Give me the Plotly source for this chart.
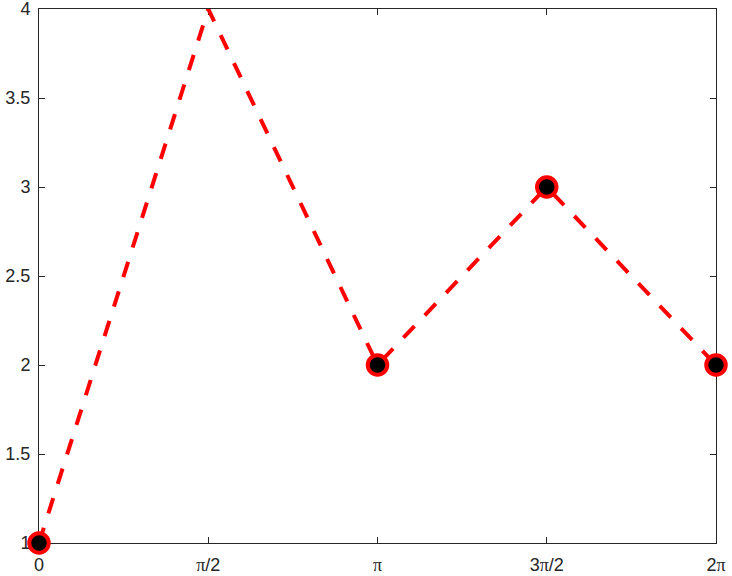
import numpy as np
import plotly.graph_objects as go

x_vals = [0, np.pi / 2, np.pi, 3 * np.pi / 2, 2 * np.pi]
y_vals = [1, 4, 2, 3, 2]
marker_idx = [0, 2, 3, 4]
x_tick_vals = [0, np.pi / 2, np.pi, 3 * np.pi / 2, 2 * np.pi]
PI = "<span style='font-family:Liberation Serif'>π</span>"
x_tick_text = ["0", PI + "/2", PI, "3" + PI + "/2", "2" + PI]
y_tick_vals = [1, 1.5, 2, 2.5, 3, 3.5, 4]
y_tick_text = ["1", "1.5", "2", "2.5", "3", "3.5", "4"]

fig = go.Figure()
fig.add_trace(go.Scatter(
    x=x_vals, y=y_vals, mode="lines",
    line=dict(color="#ff0000", width=4, dash="16px,15px"),
    showlegend=False, hoverinfo="skip"))
fig.add_trace(go.Scatter(
    x=[x_vals[i] for i in marker_idx], y=[y_vals[i] for i in marker_idx],
    mode="markers",
    marker=dict(color="black", size=19.5, line=dict(color="#ff0000", width=4)),
    cliponaxis=False, showlegend=False, hoverinfo="skip"))

axis_common = dict(
    showgrid=False, zeroline=False, showline=True, linecolor="#262626", linewidth=1,
    mirror="ticks", ticks="inside", ticklen=6, tickcolor="#262626", tickwidth=1,
    automargin=False, ticklabeloverflow="allow", layer="below traces",
    showspikes=False,
    tickfont=dict(family="Liberation Sans, Arial, sans-serif", size=18, color="#262626"),
)
fig.update_xaxes(range=[0, 2 * np.pi], tickvals=x_tick_vals, ticktext=x_tick_text,
                 ticklabelstandoff=5, **axis_common)
fig.update_yaxes(range=[1, 4], tickvals=y_tick_vals, ticktext=y_tick_text,
                 ticklabelstandoff=4, **axis_common)
fig.update_layout(
    width=732, height=576,
    margin=dict(l=39, r=16, t=9, b=33),
    plot_bgcolor="white", paper_bgcolor="white",
    hovermode=False,
)
fig.write_html("out.html", config={"displayModeBar": False, "staticPlot": True},
               post_script="document.body.style.margin='0';")
